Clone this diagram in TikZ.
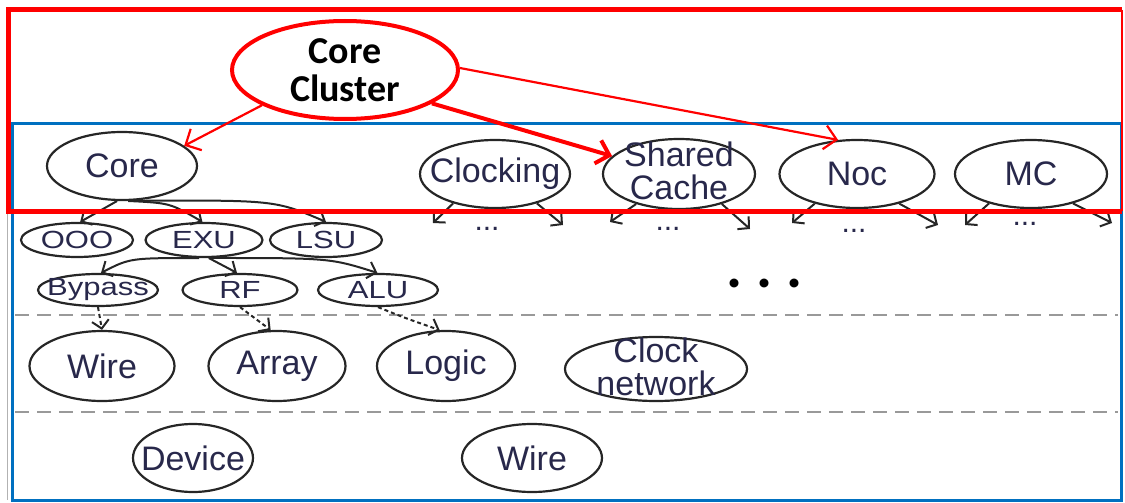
\documentclass[tikz,border=0pt]{standalone}
\usepackage{fontspec}
\usepackage{graphicx}
\setmainfont{Liberation Sans}
\newfontfamily\calib{Carlito}
\usetikzlibrary{arrows.meta,shapes.geometric}
\definecolor{myblue}{HTML}{0070C0}
\definecolor{myred}{HTML}{FF0000}
\definecolor{txtc}{RGB}{40,40,75}
\begin{document}
\begin{tikzpicture}[x=1pt,y=-1pt,
  ell/.style={draw=black!85, ellipse, line width=2.2pt, inner sep=0pt, fill=none},
  lab/.style={text=txtc, inner sep=0pt, align=center, font=\fontsize{34}{33}\selectfont},
  slab/.style={text=txtc, inner sep=0pt, font=\fontsize{31}{30}\selectfont},
  dotlab/.style={text=txtc, inner sep=0pt, font=\fontsize{30}{30}\selectfont},
  arr/.style={draw=black!85, line width=2pt, -{Straight Barb[length=8pt,width=17pt]}},
  darr/.style={arr, dash pattern=on 4pt off 3pt},
  rarr/.style={draw=myred, line width=2.2pt, -{Straight Barb[length=12pt,width=24pt]}},
  sep/.style={draw=gray!80, line width=1.8pt, dash pattern=on 14pt off 8pt},
]
\useasboundingbox (0,0) rectangle (1125,503);

% frame artefact and blue frame
\draw[gray!60, line width=1pt] (7,212) -- (7,500);
\draw[myblue, line width=3pt] (12,123) rectangle (1121,500);

% separators
\draw[sep] (15,315) -- (1118,315);
\draw[sep] (15,412) -- (1118,412);

% row 1
\node[ell, minimum width=150pt, minimum height=68pt] (core) at (122,166) {};
\node[lab] (coreT) at (core) {Core};
\node[ell, minimum width=150pt, minimum height=68pt] (clk) at (495,174) {};
\node[lab] (clkT) at (clk) {Clocking};
\node[ell, minimum width=152pt, minimum height=70pt] (shc) at (679,174) {};
\node[lab] (shcT) at (679,171) {Shared\\Cache};
\node[ell, minimum width=155pt, minimum height=68pt] (noc) at (857,174) {};
\node[lab] (nocT) at (noc) {Noc};
\node[ell, minimum width=152pt, minimum height=68pt] (mc) at (1031,174) {};
\node[lab] (mcT) at (mc) {MC};

% row 2
\node[ell, minimum width=112pt, minimum height=34pt] (ooo) at (77,240) {};
\node[slab] (oooT) at (ooo) {\scalebox{1}[0.8]{OOO}};
\node[ell, minimum width=117pt, minimum height=34pt] (exu) at (204,240) {};
\node[slab] (exuT) at (exu) {\scalebox{1}[0.8]{EXU}};
\node[ell, minimum width=112pt, minimum height=34pt] (lsu) at (326,240) {};
\node[slab] (lsuT) at (lsu) {\scalebox{1}[0.8]{LSU}};

% row 3
\node[ell, minimum width=120pt, minimum height=32pt] (byp) at (98,290) {};
\node[slab] (bypT) at (byp) {\scalebox{1}[0.8]{Bypass}};
\node[ell, minimum width=115pt, minimum height=32pt] (rf) at (240,290) {};
\node[slab] (rfT) at (rf) {\scalebox{1}[0.8]{RF}};
\node[ell, minimum width=120pt, minimum height=32pt] (alu) at (378,290) {};
\node[slab] (aluT) at (alu) {\scalebox{1}[0.8]{ALU}};

% big dots
\node[inner sep=0pt, font=\calib\bfseries\fontsize{60}{60}\selectfont] (bigdots) at (765,283) {.\hspace{14pt}.\hspace{14pt}.};

% row 4
\node[ell, minimum width=145pt, minimum height=70pt] (wire1) at (102,366) {};
\node[lab] (wire1T) at (wire1) {Wire};
\node[ell, minimum width=137pt, minimum height=70pt] (arrn) at (277,366) {};
\node[lab] (arrT) at (arrn) {Array};
\node[ell, minimum width=138pt, minimum height=70pt] (logic) at (446,366) {};
\node[lab] (logicT) at (logic) {Logic};
\node[ell, minimum width=182pt, minimum height=64pt] (clkn) at (656,369) {};
\node[lab] (clknT) at (656,367) {Clock\\network};

% row 5
\node[ell, minimum width=120pt, minimum height=68pt] (dev) at (193,458) {};
\node[lab] (devT) at (dev) {Device};
\node[ell, minimum width=140pt, minimum height=68pt] (wire2) at (532,458) {};
\node[lab] (wire2T) at (wire2) {Wire};

% tree connectors
\draw[arr] (core.262) -- (ooo.80);
\draw[arr] (core.280) .. controls (170,203) .. (exu.95);
\draw[arr] (core.285) .. controls (275,200) .. (lsu.90);
\draw[arr] (exu.255) .. controls (130,258) .. (byp.80);
\draw[arr] (exu.285) -- (rf.100);
\draw[arr] (exu.290) .. controls (330,258) .. (alu.92);
\draw[darr] (byp.south) -- (wire1.north);
\draw[darr] (rf.south) -- (arrn.100);
\draw[darr] (alu.south) .. controls (405,318) .. (logic.100);

% fan-out arrows under row 1
\coordinate (clkL) at (433,223); \coordinate (clkR) at (563,225);
\coordinate (shcL) at (610,222); \coordinate (shcR) at (750,229);
\coordinate (nocL) at (792,223); \coordinate (nocR) at (938,225);
\coordinate (mcL) at (965,225);  \coordinate (mcR) at (1112,223);
\draw[arr] (clk.215) -- (clkL);  \draw[arr] (clk.325) -- (clkR);
\draw[arr] (shc.215) -- (shcL);  \draw[arr] (shc.325) -- (shcR);
\draw[arr] (noc.215) -- (nocL);  \draw[arr] (noc.325) -- (nocR);
\draw[arr] (mc.215) -- (mcL);    \draw[arr] (mc.325) -- (mcR);
\node[dotlab] (clkD) at (487,229) {...};
\node[dotlab] (shcD) at (668,229) {...};
\node[dotlab] (nocD) at (854,231) {...};
\node[dotlab] (mcD) at (1025,224) {...};

% red cluster frame
\draw[myred, line width=5pt] (1122,10) -- (8,10) -- (8,211) -- (1122,211);
\draw[myred, line width=2pt] (1122,10) -- (1122,211);

% core cluster
\node[draw=myred, line width=4pt, ellipse, inner sep=0pt, minimum width=226pt, minimum height=98pt] (cc) at (345,70) {};
\node[inner sep=0pt, align=center, font=\calib\bfseries\fontsize{38}{38}\selectfont] (ccT) at (345,70) {Core\\Cluster};
\draw[rarr] (cc.203) -- (core.18);
\draw[rarr, line width=4pt] (cc.-21) -- (shc.165);
\draw[rarr] (cc.1) -- (noc.119);
\end{tikzpicture}
\end{document}
